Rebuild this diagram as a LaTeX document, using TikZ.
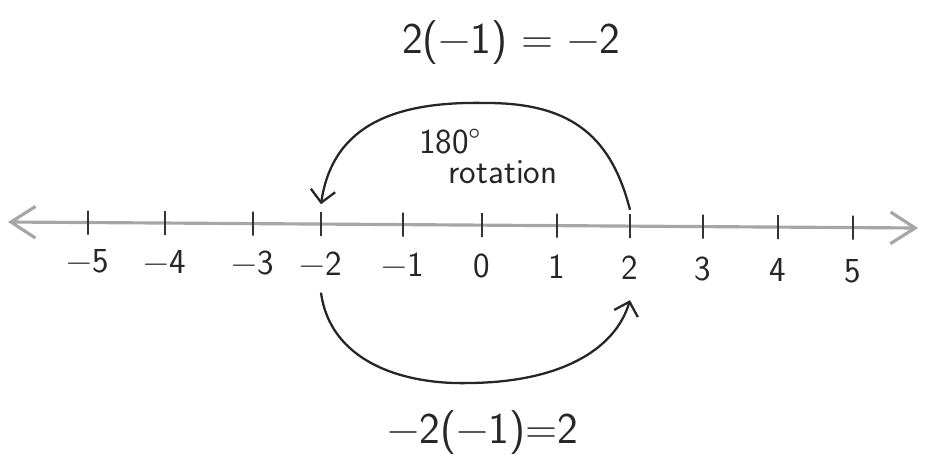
\documentclass[tikz,border=0pt]{standalone}
\usepackage{fontspec}
\usetikzlibrary{arrows.meta}

\begin{document}
\begin{tikzpicture}[
  x=0.02cm, y=-0.02cm,
  axis/.style={draw=black!35, line width=1.8pt, {Straight Barb[length=14pt,width=18pt]}-{Straight Barb[length=14pt,width=18pt]}},
  tick/.style={draw=black!80, line width=0.9pt, inner sep=0pt, minimum width=0pt, minimum height=0.48cm},
  num/.style={font=\sffamily\fontsize{20}{24}\selectfont, text=black!85},
  eqn/.style={font=\sffamily\fontsize{25}{30}\selectfont, text=black!85},
  turn/.style={draw=black!85, line width=1.3pt, -{Straight Barb[length=7pt,width=14pt]}},
]
  \useasboundingbox (0,0) rectangle (925,454);

  % number line
  \coordinate (left) at (8,222);
  \coordinate (right) at (918,228);
  \draw[axis] (left) -- (right);

  \foreach \nm/\v/\x in {m5/−5/88, m4/−4/165, m3/−3/253, m2/−2/321, m1/−1/403,
                         z/0/482, p1/1/557, p2/2/630, p3/3/703, p4/4/778, p5/5/853}{
    \node[tick] (\nm) at (\x,{222+(\x-8)*6/910}) {};
    \node[num] (l\nm) at (\x,{261+(\x-88)*10/765}) {\v};
  }

  % products
  \node[eqn] (top) at (511,43) {2(−1) = −2};
  \node[eqn] (bot) at (483,433) {−2(−1)=2};

  \node[num] (deg) at (450,142) {180°};
  \node[num] (rot) at (503,172) {rotation};

  % the two half turns
  \draw[turn] ([yshift=2pt]p2.north) .. controls (612,140) and (575,103) .. (487,103)
    .. controls (400,101) and (333,122) .. ([yshift=4pt]m2.north);
  \draw[turn] ([yshift=-6pt]lm2.south) .. controls (330,360) and (400,385) .. (470,383)
    .. controls (560,382) and (615,350) .. ([yshift=-8pt]lp2.south);
\end{tikzpicture}
\end{document}
